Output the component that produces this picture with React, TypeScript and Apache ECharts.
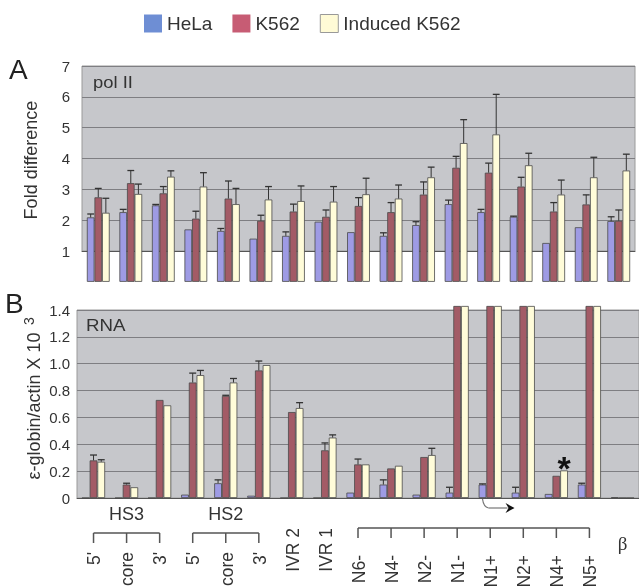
import React, { useEffect, useRef } from "react";
import * as echarts from "echarts";

const categories = ["5'", "core", "3'", "5'", "core", "3'", "IVR 2", "IVR 1", "N6-", "N4-", "N2-", "N1-", "N1+", "N2+", "N4+", "N5+", "β"];
const seriesNames = ["HeLa", "K562", "Induced K562"];

// Panel A: pol II fold difference
const helaA = [2.09, 2.26, 2.48, 1.7, 1.65, 1.4, 1.49, 1.95, 1.61, 1.49, 1.84, 2.52, 2.26, 2.11, 1.26, 1.77, 1.97];
const helaAErr = [0.11, 0.09, 0.03, 0, 0.08, 0, 0.13, 0, 0, 0.1, 0.11, 0.13, 0.09, 0.02, 0, 0, 0.14];
const k562A = [2.74, 3.2, 2.87, 2.05, 2.7, 1.98, 2.28, 2.11, 2.46, 2.26, 2.83, 3.7, 3.54, 3.09, 2.28, 2.51, 1.98];
const k562AErr = [0.29, 0.41, 0.22, 0.24, 0.57, 0.18, 0.24, 0.22, 0.27, 0.31, 0.41, 0.37, 0.31, 0.3, 0.29, 0.31, 0.35];
const indA = [2.24, 2.85, 3.41, 3.09, 2.52, 2.67, 2.62, 2.6, 2.84, 2.7, 3.39, 4.5, 4.78, 3.78, 2.83, 3.39, 3.61];
const indAErr = [0.47, 0.32, 0.19, 0.45, 0.51, 0.42, 0.49, 0.49, 0.52, 0.44, 0.33, 0.76, 1.3, 0.39, 0.47, 0.65, 0.53];

// Panel B: RNA (epsilon-globin / actin x 10^3)
const helaB = [0, 0, 0, 0.025, 0.11, 0.017, 0, 0, 0.04, 0.1, 0.025, 0.04, 0.1, 0.04, 0.03, 0.1, 0.005];
const helaBErr = [0, 0, 0, 0, 0.025, 0, 0, 0, 0, 0.035, 0, 0.04, 0.005, 0.04, 0, 0.01, 0];
const k562B = [0.28, 0.1, 0.73, 0.86, 0.76, 0.95, 0.64, 0.355, 0.25, 0.22, 0.305, 1.43, 1.43, 1.43, 0.165, 1.43, 0];
const k562BErr = [0.04, 0.01, 0, 0.07, 0.005, 0.07, 0, 0.055, 0.04, 0, 0, 0, 0, 0, 0, 0, 0];
const indB = [0.27, 0.08, 0.69, 0.915, 0.86, 0.99, 0.67, 0.45, 0.25, 0.24, 0.32, 1.43, 1.43, 1.43, 0.205, 1.43, 0];
const indBErr = [0.015, 0, 0, 0.035, 0.03, 0, 0.04, 0.02, 0, 0, 0.05, 0, 0, 0, 0, 0, 0];

const yTicksA = [1, 2, 3, 4, 5, 6, 7];
const yTicksB = [0, 0.2, 0.4, 0.6, 0.8, 1.0, 1.2, 1.4];

const barColors = ["#9e9be4", "#a35b66", "#fffcd9"];
const legendColors = ["#6e8ed4", "#c75c74", "#fffbd6"];
const FONT = "'Liberation Sans', Arial, Helvetica, sans-serif";
const GAP = 0.3;

function errSeries(k: number, axis: number, vals: number[], errs: number[]) {
  return {
    type: "custom",
    xAxisIndex: axis,
    yAxisIndex: axis,
    silent: true,
    z: 5,
    data: vals.map((v, i) => [i, v, errs[i]]).filter((d) => d[2] > 0),
    encode: { x: 0, y: 1 },
    renderItem: (params: any, api: any) => {
      const i = api.value(0);
      const v = api.value(1);
      const e = api.value(2);
      const p0 = api.coord([i, v]);
      const p1 = api.coord([i, v + e]);
      const band = api.size([1, 0])[0];
      const bw = (band * (1 - GAP)) / 3;
      const cx = p0[0] + (k - 1) * bw;
      const hw = bw * 0.45;
      return {
        type: "group",
        children: [
          { type: "line", shape: { x1: cx, y1: p0[1], x2: cx, y2: p1[1] }, style: { stroke: "#333", lineWidth: 1 } },
          { type: "line", shape: { x1: cx - hw, y1: p1[1], x2: cx + hw, y2: p1[1] }, style: { stroke: "#333", lineWidth: 1.3 } },
        ],
      };
    },
  };
}

function barSeries(k: number, axis: number, vals: number[]) {
  return {
    type: "bar",
    name: seriesNames[k],
    xAxisIndex: axis,
    yAxisIndex: axis,
    data: vals,
    barGap: "0%",
    barCategoryGap: GAP * 100 + "%",
    clip: false,
    itemStyle: { color: barColors[k], borderColor: "#4a4a4a", borderWidth: 0.8 },
  };
}

export default function App() {
  const ref = useRef<HTMLDivElement>(null);
  useEffect(() => {
    if (!ref.current) return;
    const chart = echarts.init(ref.current, null, { renderer: "svg" });
    const gridBg = "#c6c7cb";
    const splitColor = "#7e7e82";
    chart.setOption({
      animation: false,
      textStyle: { fontFamily: FONT },
      legend: {
        top: 9,
        left: 139,
        itemWidth: 18,
        itemHeight: 18,
        itemGap: 20,
        icon: "rect",
        textStyle: { fontSize: 19, color: "#333", fontFamily: FONT },
        data: seriesNames.map((n, k) => ({
          name: n,
          itemStyle: { color: legendColors[k], borderColor: "#999", borderWidth: k === 2 ? 1 : 0 },
        })),
      },
      grid: [
        { left: 82, right: 4, top: 66, height: 185, show: true, backgroundColor: gridBg, borderColor: "#9a9a9a", borderWidth: 1 },
        { left: 77, right: 0, top: 310, height: 188, show: true, backgroundColor: gridBg, borderColor: "#9a9a9a", borderWidth: 1 },
      ],
      xAxis: [0, 1].map((g) => ({
        type: "category",
        gridIndex: g,
        data: categories,
        axisTick: { show: false },
        axisLabel: { show: false },
        axisLine: { show: true, lineStyle: { color: "#555", width: 1 } },
      })),
      yAxis: [
        {
          type: "value",
          gridIndex: 0,
          min: yTicksA[0],
          max: yTicksA[yTicksA.length - 1],
          interval: 1,
          axisLine: { show: false },
          axisTick: { show: false },
          axisLabel: { fontSize: 15, color: "#333", margin: 12, fontFamily: FONT },
          splitLine: { lineStyle: { color: splitColor, width: 1 } },
        },
        {
          type: "value",
          gridIndex: 1,
          min: yTicksB[0],
          max: yTicksB[yTicksB.length - 1],
          interval: 0.2,
          axisLine: { show: false },
          axisTick: { show: false },
          axisLabel: {
            fontSize: 15,
            color: "#333",
            margin: 7,
            fontFamily: FONT,
            formatter: (v: number) => (v === 0 ? "0" : v.toFixed(1)),
          },
          splitLine: { lineStyle: { color: splitColor, width: 1 } },
        },
      ],
      series: [
        barSeries(0, 0, helaA),
        barSeries(1, 0, k562A),
        barSeries(2, 0, indA),
        barSeries(0, 1, helaB),
        barSeries(1, 1, k562B),
        barSeries(2, 1, indB),
        errSeries(0, 0, helaA, helaAErr),
        errSeries(1, 0, k562A, k562AErr),
        errSeries(2, 0, indA, indAErr),
        errSeries(0, 1, helaB, helaBErr),
        errSeries(1, 1, k562B, k562BErr),
        errSeries(2, 1, indB, indBErr),
      ],
    });

    // Annotations derived from axis positions
    const xB = (i: number) => chart.convertToPixel({ xAxisIndex: 1 }, i) as number;
    const yB = (v: number) => chart.convertToPixel({ yAxisIndex: 1 }, v) as number;
    const band = xB(1) - xB(0);
    const bw = (band * (1 - GAP)) / 3;
    const labelColor = "#333";
    const lineStyle = { stroke: "#555", lineWidth: 1.5 };
    const g: any[] = [];

    g.push({ type: "text", x: 9, y: 55, style: { text: "A", fontSize: 28, fill: "#222", fontFamily: FONT } });
    g.push({ type: "text", x: 5, y: 289, style: { text: "B", fontSize: 28, fill: "#222", fontFamily: FONT } });
    g.push({ type: "text", x: 93, y: 74, scaleX: 1.15, style: { text: "pol II", fontSize: 16, fill: "#333", fontFamily: FONT } });
    g.push({ type: "text", x: 86, y: 317, scaleX: 1.1, style: { text: "RNA", fontSize: 17, fill: "#333", fontFamily: FONT } });
    g.push({
      type: "text", x: 31, y: 160, rotation: Math.PI / 2,
      style: { text: "Fold difference", fontSize: 18, fill: "#333", align: "center", verticalAlign: "middle", fontFamily: FONT },
    });
    g.push({
      type: "text", x: 34, y: 406, rotation: Math.PI / 2,
      style: { text: "ε-globin/actin X 10", fontSize: 18, fill: "#333", align: "center", verticalAlign: "middle", fontFamily: FONT },
    });
    g.push({
      type: "text", x: 29, y: 321, rotation: Math.PI / 2,
      style: { text: "3", fontSize: 14, fill: "#333", align: "center", verticalAlign: "middle", fontFamily: FONT },
    });

    // group labels and brackets
    const bracket = (from: number, to: number, y: number, len: number) => {
      g.push({ type: "line", shape: { x1: xB(from), y1: y, x2: xB(to), y2: y }, style: lineStyle });
      for (let i = from; i <= to; i++) {
        g.push({ type: "line", shape: { x1: xB(i), y1: y, x2: xB(i), y2: y + len }, style: lineStyle });
      }
    };
    bracket(0, 2, 533, 10);
    bracket(3, 5, 533, 10);
    bracket(8, 15, 528, 10);
    g.push({ type: "text", x: xB(1), y: 514, style: { text: "HS3", fontSize: 18, fill: labelColor, align: "center", verticalAlign: "middle", fontFamily: FONT } });
    g.push({ type: "text", x: xB(4), y: 514, style: { text: "HS2", fontSize: 18, fill: labelColor, align: "center", verticalAlign: "middle", fontFamily: FONT } });

    categories.forEach((c, i) => {
      if (i === 16) {
        g.push({ type: "text", x: xB(i), y: 543, style: { text: c, fontSize: 19, fill: labelColor, align: "center", verticalAlign: "middle", fontFamily: "'Liberation Serif', 'DejaVu Serif', serif" } });
        return;
      }
      const top = i === 6 || i === 7 ? 528 : i >= 8 ? 555 : 552;
      g.push({
        type: "text", x: xB(i), y: top, rotation: Math.PI / 2, scaleX: 0.92,
        style: { text: c, fontSize: 19, fill: labelColor, align: "right", verticalAlign: "middle", fontFamily: FONT },
      });
    });

    // asterisk over N4+ induced bar
    const ax = xB(14) + bw;
    g.push({ type: "text", x: ax, y: yB(indB[14]) - 2, style: { text: "*", fontSize: 34, fontWeight: "bold", fill: "#111", align: "center", verticalAlign: "middle", fontFamily: FONT } });

    // bent arrow under N1+ (transcription start)
    const hx = xB(12) - bw;
    const y0 = yB(0);
    g.push({ type: "bezierCurve", shape: { x1: hx, y1: y0 + 1, x2: hx + 6, y2: y0 + 10, cpx1: hx + 1, cpy1: y0 + 9 }, style: { stroke: "#777", lineWidth: 1.2, fill: null } });
    g.push({ type: "line", shape: { x1: hx + 6, y1: y0 + 10, x2: hx + 25, y2: y0 + 10 }, style: { stroke: "#777", lineWidth: 1.2 } });
    g.push({ type: "polygon", shape: { points: [[hx + 23, y0 + 5], [hx + 32, y0 + 10], [hx + 23, y0 + 15], [hx + 26, y0 + 10]] }, style: { fill: "#111" } });

    chart.setOption({ graphic: g });
    return () => chart.dispose();
  }, []);
  return <div ref={ref} style={{ position: "fixed", left: 0, top: 0, width: 639, height: 587 }} />;
}
